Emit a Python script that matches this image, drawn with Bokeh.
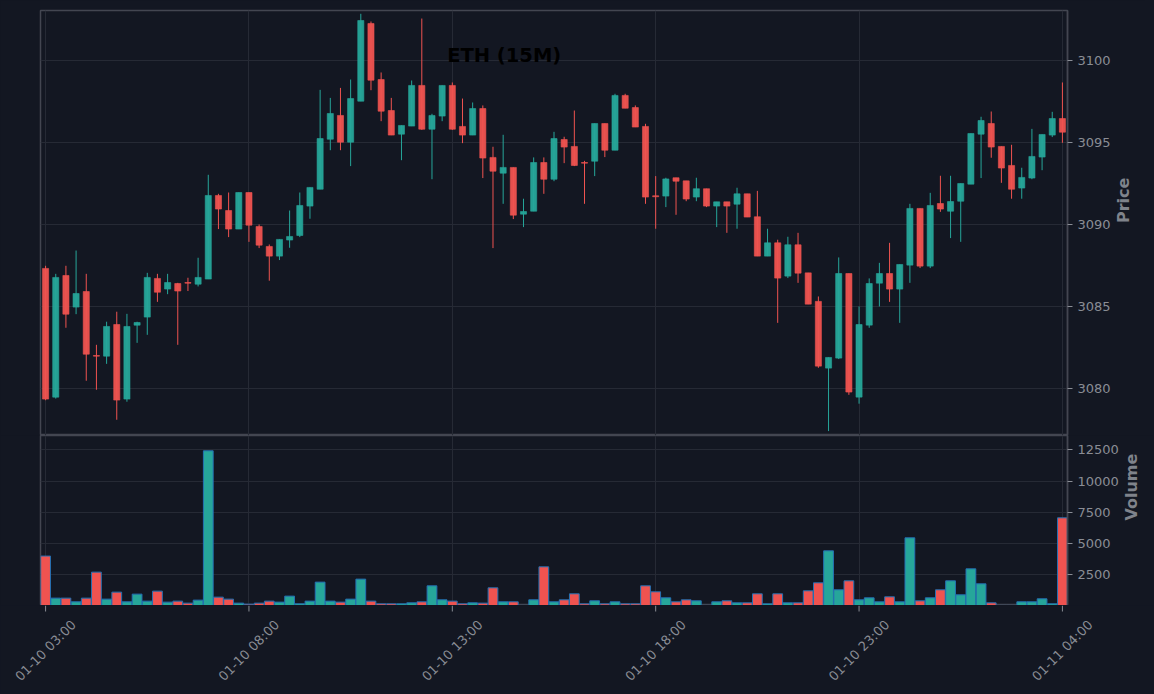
import math
from bokeh.plotting import figure
from bokeh.layouts import column
from bokeh.models import ColumnDataSource, Range1d, FixedTicker, Label
from bokeh.core.properties import value
from bokeh.embed import file_html
from bokeh.resources import INLINE

# ---- data ----
opens = [3087.34, 3079.49, 3086.91, 3084.98, 3085.93, 3082.03, 3081.99, 3083.92, 3079.37, 3083.88,
         3084.37, 3086.73, 3086.08, 3086.42, 3086.48, 3086.38, 3086.69, 3091.79, 3090.87, 3089.74,
         3091.97, 3089.90, 3088.68, 3088.09, 3089.07, 3089.35, 3091.14, 3092.17, 3095.22, 3096.67,
         3095.04, 3097.54, 3102.28, 3098.86, 3096.97, 3095.53, 3096.02, 3098.50, 3095.83, 3096.63,
         3098.50, 3096.00, 3095.47, 3097.09, 3094.11, 3093.15, 3093.50, 3090.65, 3090.83, 3093.80,
         3092.78, 3095.20, 3094.78, 3093.80, 3093.88, 3096.18, 3094.55, 3097.89, 3097.15, 3096.00,
         3091.77, 3091.75, 3092.87, 3092.68, 3091.69, 3092.20, 3091.14, 3091.40, 3091.26, 3091.89,
         3090.49, 3088.09, 3088.90, 3086.87, 3088.78, 3087.07, 3085.33, 3081.26, 3081.87, 3087.03,
         3079.49, 3083.88, 3086.44, 3087.03, 3086.08, 3087.54, 3091.00, 3087.48, 3091.30, 3090.83,
         3091.44, 3092.48, 3095.53, 3096.18, 3094.78, 3093.62, 3092.24, 3092.85, 3094.13, 3095.47,
         3096.48]
highs = [3087.50, 3087.01, 3087.50, 3088.43, 3087.01, 3082.68, 3084.09, 3084.70, 3084.57, 3084.09,
         3087.07, 3087.01, 3087.01, 3086.46, 3086.77, 3087.99, 3093.05, 3091.89, 3091.97, 3091.97,
         3091.97, 3090.02, 3088.80, 3089.11, 3090.87, 3091.97, 3092.28, 3098.23, 3097.74, 3098.35,
         3098.86, 3102.87, 3102.40, 3099.29, 3097.74, 3096.06, 3098.80, 3102.58, 3096.77, 3098.50,
         3098.68, 3097.70, 3097.46, 3097.28, 3094.76, 3095.49, 3093.50, 3091.59, 3094.11, 3094.11,
         3095.67, 3095.37, 3096.97, 3093.90, 3096.18, 3096.18, 3097.99, 3097.99, 3097.28, 3096.16,
         3092.97, 3092.87, 3092.87, 3092.68, 3092.87, 3092.20, 3091.40, 3091.40, 3092.26, 3091.89,
         3092.07, 3089.76, 3089.09, 3089.27, 3089.51, 3087.07, 3085.63, 3081.91, 3088.01, 3087.03,
         3085.02, 3086.73, 3087.68, 3088.90, 3087.58, 3091.28, 3091.00, 3091.95, 3092.99, 3092.99,
         3092.52, 3095.57, 3096.59, 3096.91, 3094.78, 3094.88, 3093.48, 3095.85, 3095.51, 3096.89,
         3098.68]
lows = [3079.30, 3079.40, 3083.72, 3084.55, 3080.49, 3079.94, 3081.52, 3078.11, 3079.21, 3082.80,
        3083.29, 3085.30, 3085.77, 3082.68, 3085.96, 3086.24, 3086.69, 3089.74, 3089.25, 3089.74,
        3088.96, 3088.58, 3086.59, 3087.85, 3088.60, 3089.25, 3090.37, 3092.17, 3094.55, 3094.55,
        3093.58, 3097.54, 3098.21, 3096.32, 3095.47, 3093.94, 3096.02, 3095.79, 3092.78, 3096.32,
        3095.79, 3094.98, 3095.47, 3092.85, 3088.58, 3091.28, 3090.35, 3089.86, 3090.83, 3091.89,
        3092.66, 3093.76, 3093.58, 3091.28, 3092.97, 3094.13, 3094.55, 3097.11, 3095.96, 3091.28,
        3089.76, 3091.08, 3090.61, 3091.44, 3091.44, 3091.08, 3089.86, 3089.51, 3089.76, 3090.47,
        3088.09, 3088.09, 3084.02, 3086.75, 3086.46, 3085.16, 3081.28, 3077.42, 3081.81, 3079.63,
        3079.09, 3083.72, 3085.02, 3085.30, 3084.02, 3086.46, 3087.36, 3087.36, 3090.79, 3089.19,
        3088.96, 3092.48, 3092.85, 3094.09, 3092.56, 3091.59, 3091.59, 3092.78, 3093.33, 3095.35,
        3095.00]
closes = [3079.37, 3086.79, 3084.55, 3085.81, 3082.11, 3081.99, 3083.80, 3079.31, 3083.80, 3084.04,
          3086.79, 3085.89, 3086.48, 3085.96, 3086.44, 3086.79, 3091.79, 3090.96, 3089.74, 3091.97,
          3089.98, 3088.76, 3088.09, 3089.11, 3089.29, 3091.18, 3092.28, 3095.26, 3096.79, 3095.04,
          3097.70, 3102.46, 3098.82, 3096.93, 3095.47, 3096.06, 3098.50, 3095.83, 3096.67, 3098.50,
          3095.83, 3095.47, 3097.09, 3094.07, 3093.27, 3093.50, 3090.59, 3090.81, 3093.80, 3092.78,
          3095.26, 3094.74, 3093.62, 3093.76, 3096.18, 3094.55, 3097.89, 3097.11, 3095.96, 3091.69,
          3091.71, 3092.80, 3092.66, 3091.57, 3092.20, 3091.14, 3091.40, 3091.14, 3091.89, 3090.47,
          3088.09, 3088.90, 3086.75, 3088.78, 3087.05, 3085.16, 3081.38, 3081.91, 3087.03, 3079.80,
          3083.92, 3086.42, 3087.03, 3086.08, 3087.58, 3091.00, 3087.48, 3091.18, 3090.96, 3091.42,
          3092.52, 3095.57, 3096.36, 3094.74, 3093.46, 3092.17, 3092.89, 3094.17, 3095.51, 3096.48,
          3095.65]
volumes = [4000, 633, 633, 340, 633, 2714, 553, 1113, 340, 953,
           393, 1193, 313, 393, 233, 473, 12420, 713, 553, 233,
           150, 233, 393, 313, 793, 180, 393, 1913, 393, 313,
           553, 2153, 393, 180, 180, 180, 260, 340, 1620, 500,
           393, 180, 260, 233, 1460, 340, 340, 50, 500, 3140,
           340, 500, 980, 180, 420, 180, 340, 180, 180, 1620,
           1140, 660, 340, 500, 420, 50, 340, 420, 260, 260,
           980, 180, 980, 260, 260, 1220, 1860, 4420, 1300, 2020,
           500, 660, 340, 740, 340, 5460, 420, 660, 1300, 2020,
           900, 2980, 1780, 260, 50, 50, 340, 340, 580, 180,
           7060]
tick_positions = [0, 20, 40, 60, 80, 100]
tick_labels = ["01-10 03:00", "01-10 08:00", "01-10 13:00",
               "01-10 18:00", "01-10 23:00", "01-11 04:00"]
price_ticks = [3080, 3085, 3090, 3095, 3100]
volume_ticks = [2500, 5000, 7500, 10000, 12500]
title_text = "ETH (15M)"

# ---- styling ----
BG = "#131722"
GRID = "#262a35"
FRAME = "#434651"
TXT = "#8a8d95"
LBL = "#7f838b"
UP = "#26a69a"
DOWN = "#ef5350"
EDGE = "#2470b3"
FONT = "DejaVu Sans"

n = len(opens)
idx = list(range(n))
colors = [UP if c >= o else DOWN for o, c in zip(opens, closes)]
src = ColumnDataSource(dict(
    x=idx, o=opens, h=highs, l=lows, c=closes,
    top=[max(o, c) for o, c in zip(opens, closes)],
    bot=[min(o, c) for o, c in zip(opens, closes)],
    color=colors, vol=volumes))

LEFT = 40
FW = 1027
px_per = FW / n
x_range = Range1d(-0.5, n - 0.5)


def style(fig, label, ticks):
    fig.background_fill_color = BG
    fig.border_fill_color = BG
    fig.outline_line_color = FRAME
    fig.outline_line_width = 1.5
    for g in fig.xgrid:
        g.ticker = FixedTicker(ticks=tick_positions)
        g.grid_line_color = GRID
        g.grid_line_width = 1.1
    for g in fig.ygrid:
        g.ticker = FixedTicker(ticks=ticks)
        g.grid_line_color = GRID
        g.grid_line_width = 1.1
    ax = fig.yaxis[0]
    ax.ticker = FixedTicker(ticks=ticks)
    ax.axis_line_color = FRAME
    ax.axis_line_width = 1.5
    ax.major_tick_line_color = TXT
    ax.major_tick_out = 5
    ax.major_tick_in = 0
    ax.minor_tick_line_color = None
    ax.major_label_text_color = TXT
    ax.major_label_text_font = FONT
    ax.major_label_text_font_size = "13px"
    ax.major_label_standoff = 5
    ax.axis_label = label
    ax.axis_label_text_font = FONT
    ax.axis_label_text_font_size = "16px"
    ax.axis_label_text_font_style = "bold"
    ax.axis_label_text_color = LBL
    ax.axis_label_standoff = 10
    try:
        ax.axis_label_orientation = math.pi / 2
    except Exception:
        pass


# ---- price panel ----
p = figure(frame_width=FW, frame_height=425, x_range=x_range,
           y_range=Range1d(3077.15, 3103.07),
           x_axis_location=None, y_axis_location="right",
           output_backend="svg", toolbar_location=None,
           min_border_left=LEFT, min_border_top=10, min_border_bottom=0, min_border_right=0)
style(p, "Price", price_ticks)
p.segment(x0="x", y0="l", x1="x", y1="h", line_color="color", line_width=1, source=src)
p.vbar(x="x", width=0.6, top="top", bottom="bot", fill_color="color",
       line_color="color", line_width=0.6, fill_alpha=0.95, source=src)
p.add_layout(Label(x=45.1, y=3100.3, text=title_text, text_align="center",
                   text_baseline="middle", text_font=FONT, text_font_size="19.5px",
                   text_font_style="bold", text_color="#000000"))

# ---- volume panel ----
q = figure(frame_width=FW, frame_height=170, x_range=x_range,
           y_range=Range1d(44, 13644),
           x_axis_location=None, y_axis_location="right",
           output_backend="svg", toolbar_location=None,
           min_border_left=LEFT, min_border_top=0, min_border_bottom=0, min_border_right=0)
style(q, "Volume", volume_ticks)
q.vbar(x="x", width=0.96, top="vol", bottom=0, fill_color="color",
       line_color=EDGE, line_width=1, source=src)

# ---- date labels strip (separate root so its frame can start at the page edge) ----
LH = 89
SW = 1154
lstart = -0.5 - LEFT / px_per
r = figure(frame_width=SW, frame_height=LH,
           x_range=Range1d(lstart, lstart + SW / px_per), y_range=Range1d(0, LH),
           x_axis_location=None, y_axis_location=None,
           output_backend="svg", toolbar_location=None, min_border=0)
r.background_fill_color = BG
r.border_fill_color = BG
r.outline_line_color = None
r.grid.visible = False
r.segment(x0=tick_positions, y0=[LH] * len(tick_positions), x1=tick_positions,
          y1=[LH - 6] * len(tick_positions), line_color=TXT, line_width=1)
r.text(x=tick_positions, y=[LH - 45] * len(tick_positions), text=tick_labels,
       angle=math.pi / 4, text_align="center", text_baseline="middle",
       text_font=value(FONT), text_font_size="13px", text_color=TXT)

top_part = column(p, q)
top_part.styles = {"background-color": BG}

html = file_html([top_part, r], INLINE)
html = html.replace("<body>", '<body style="background-color:%s;">' % BG)
open("out.html", "w").write(html)
